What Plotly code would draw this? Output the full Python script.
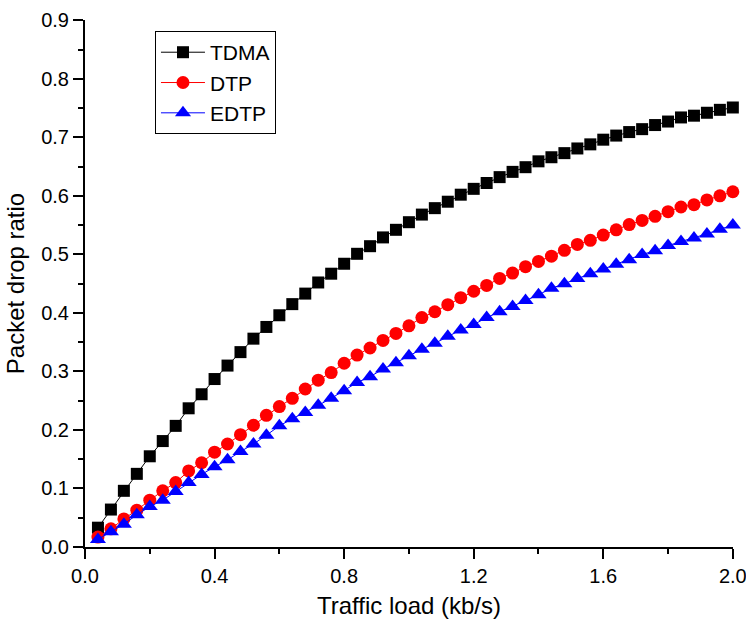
import plotly.graph_objects as go

traffic_load = [round(0.04 * (i + 1), 2) for i in range(50)]

tdma = [0.033, 0.064, 0.096, 0.125, 0.155, 0.181, 0.207, 0.237, 0.261, 0.287,
        0.310, 0.333, 0.356, 0.376, 0.396, 0.415, 0.433, 0.452, 0.467, 0.484,
        0.501, 0.514, 0.529, 0.542, 0.555, 0.568, 0.579, 0.590, 0.602, 0.612,
        0.622, 0.632, 0.641, 0.649, 0.659, 0.666, 0.673, 0.681, 0.688, 0.696,
        0.703, 0.709, 0.714, 0.721, 0.727, 0.734, 0.737, 0.742, 0.747, 0.751]

dtp = [0.017, 0.031, 0.048, 0.063, 0.080, 0.096, 0.110, 0.130, 0.144, 0.162,
       0.176, 0.192, 0.208, 0.225, 0.240, 0.254, 0.270, 0.285, 0.298, 0.314,
       0.328, 0.340, 0.353, 0.365, 0.378, 0.392, 0.402, 0.414, 0.426, 0.437,
       0.447, 0.459, 0.468, 0.479, 0.488, 0.497, 0.507, 0.517, 0.524, 0.533,
       0.542, 0.551, 0.558, 0.565, 0.573, 0.581, 0.585, 0.593, 0.600, 0.607]

edtp = [0.013, 0.026, 0.039, 0.055, 0.069, 0.080, 0.095, 0.110, 0.124, 0.137,
        0.149, 0.163, 0.176, 0.191, 0.207, 0.219, 0.230, 0.242, 0.254, 0.267,
        0.281, 0.291, 0.304, 0.315, 0.327, 0.338, 0.348, 0.360, 0.371, 0.380,
        0.392, 0.402, 0.411, 0.421, 0.431, 0.442, 0.450, 0.459, 0.467, 0.475,
        0.483, 0.491, 0.500, 0.506, 0.515, 0.522, 0.528, 0.535, 0.543, 0.550]

series_names = ["TDMA", "DTP", "EDTP"]
x_ticks = [0.0, 0.4, 0.8, 1.2, 1.6, 2.0]
y_ticks = [0.0, 0.1, 0.2, 0.3, 0.4, 0.5, 0.6, 0.7, 0.8, 0.9]

FONT = "Liberation Sans, Arial, sans-serif"

styles = [
    dict(color="#000000", symbol="square", size=12),
    dict(color="#FF0000", symbol="circle", size=13),
    dict(color="#0000FF", symbol="triangle-up", size=14),
]

fig = go.Figure()
for name, ys, st in zip(series_names, [tdma, dtp, edtp], styles):
    fig.add_trace(go.Scatter(
        x=traffic_load, y=ys, name=name, mode="lines+markers",
        line=dict(color=st["color"], width=1),
        marker=dict(color=st["color"], symbol=st["symbol"], size=st["size"],
                    line=dict(width=0)),
        cliponaxis=False,
    ))

axis_common = dict(
    showline=True, linecolor="black", linewidth=2, mirror=False,
    showgrid=False, zeroline=False, automargin=False,
    ticks="outside", ticklen=10, tickwidth=2, tickcolor="black",
    tickfont=dict(family=FONT, size=20, color="black"),
    ticklabeloverflow="allow",
)

fig.update_xaxes(
    range=[0, 2.0005], tickvals=x_ticks, ticktext=[f"{v:.1f}" for v in x_ticks],
    minor=dict(dtick=0.2, tick0=0, ticks="outside", ticklen=5, tickwidth=2, tickcolor="black"),
    title=dict(text="Traffic load (kb/s)", font=dict(family=FONT, size=24, color="black"), standoff=12),
    **axis_common,
)
fig.update_yaxes(
    range=[0, 0.9005], tickvals=y_ticks, ticktext=[f"{v:.1f}" for v in y_ticks],
    minor=dict(dtick=0.05, tick0=0, ticks="outside", ticklen=5, tickwidth=2, tickcolor="black"),
    title=dict(text="Packet drop ratio", font=dict(family=FONT, size=24, color="black"), standoff=10),
    **axis_common,
)

fig.update_layout(
    width=746, height=619,
    margin=dict(l=85, r=13, t=20, b=72),
    paper_bgcolor="white", plot_bgcolor="white",
    legend=dict(
        x=0.108, y=0.979, xanchor="left", yanchor="top",
        bordercolor="black", borderwidth=1, bgcolor="white",
        font=dict(family=FONT, size=21, color="black"),
        itemwidth=44, tracegroupgap=0,
    ),
    showlegend=True,
)

fig.write_html("out.html")
